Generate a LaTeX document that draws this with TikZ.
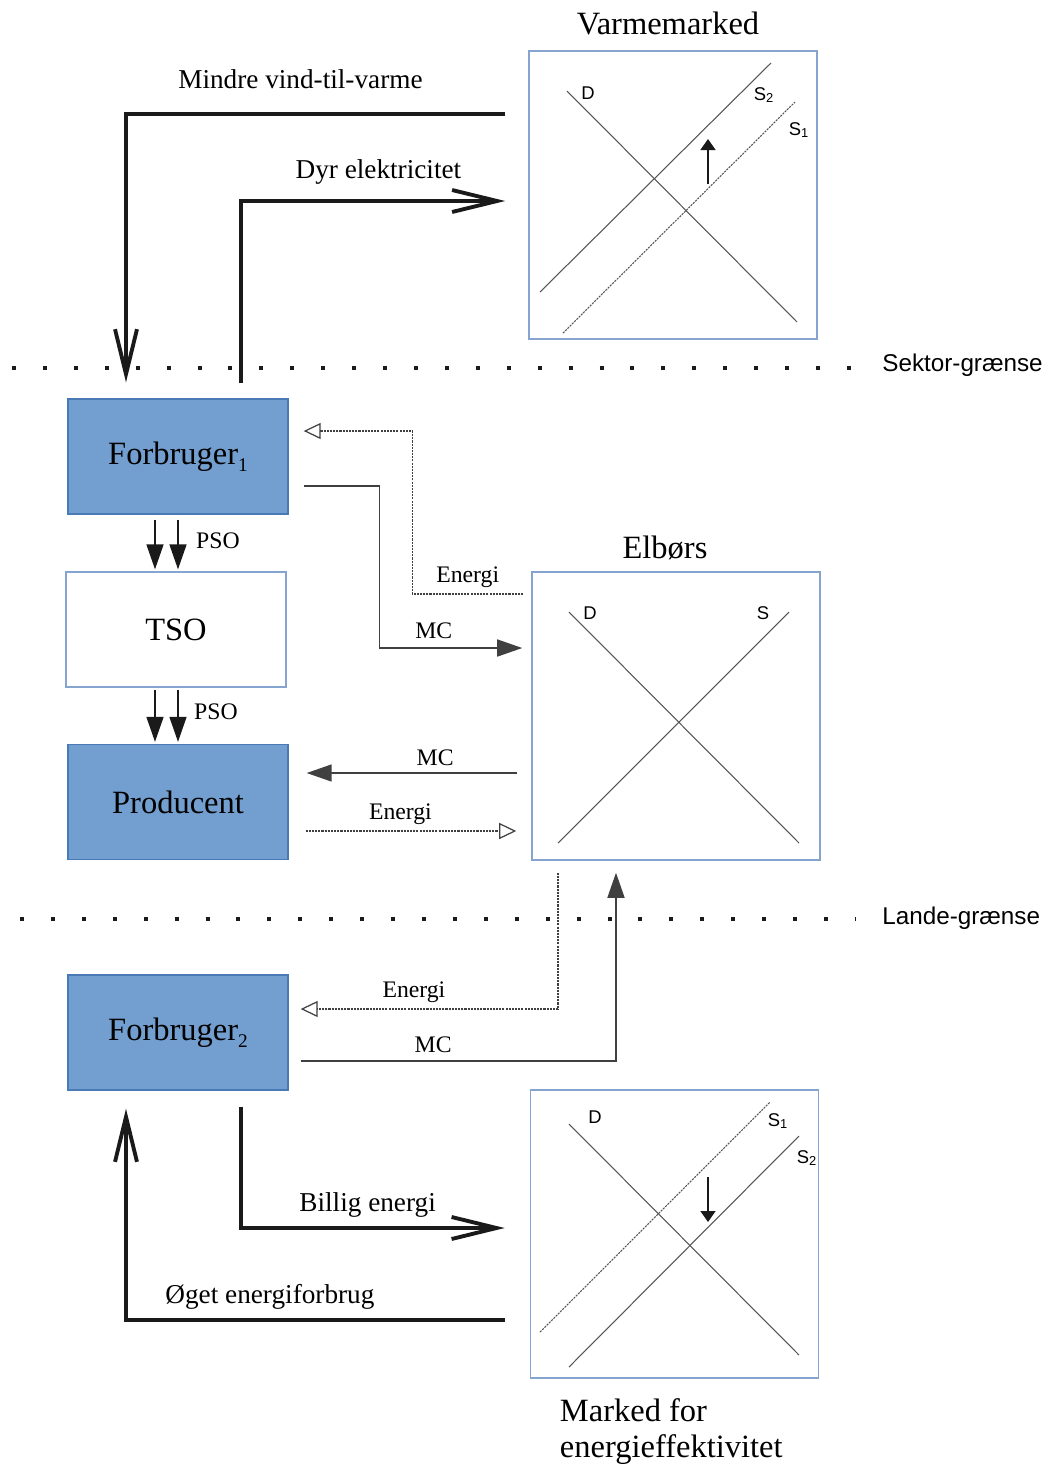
\documentclass[tikz,border=0pt]{standalone}
\usepackage{fontspec}
\setmainfont{Liberation Serif}
\setsansfont{Liberation Sans}
\usepackage{xcolor}
\usepackage{tikz}
\usetikzlibrary{arrows.meta,positioning}
\definecolor{Ink}{HTML}{1A1A1A}
\definecolor{LineGrey}{HTML}{404040}
\definecolor{CurveGrey}{HTML}{555555}
\definecolor{Agent}{HTML}{729FCF}
\definecolor{AgentEdge}{HTML}{4A7AB5}
\definecolor{MarketEdge}{HTML}{85A4D0}
\newcommand{\lowidx}[1]{\raisebox{-0.5ex}{\fontsize{11}{12}\selectfont #1}}

\begin{document}
\begin{tikzpicture}[x=0.02cm,y=-0.02cm,
  agent/.style={draw=AgentEdge,fill=Agent,line width=0.8pt,minimum width=4.4cm,
    minimum height=2.3cm,font=\fontsize{18.5}{22}\selectfont},
  tsobox/.style={agent,fill=white,draw=MarketEdge},
  market/.style={draw=MarketEdge,line width=0.9pt,minimum width=5.76cm,minimum height=5.76cm},
  title/.style={font=\fontsize{18.5}{20.5}\selectfont},
  lbl/.style={text=black,font=\fontsize{13.5}{16}\selectfont},
  biglbl/.style={text=black,font=\fontsize{15.5}{18}\selectfont},
  axislbl/.style={font=\sffamily\fontsize{10.5}{12}\selectfont,inner sep=0pt},
  grenselbl/.style={font=\sffamily\fontsize{13.8}{16}\selectfont,anchor=west,inner sep=0pt},
  flow/.style={Ink,line width=2.2pt,-{Straight Barb[length=9mm,width=4.4mm]}},
  mc/.style={LineGrey,line width=0.9pt,-{Triangle[length=5mm,width=3.4mm]}},
  energi/.style={LineGrey,line width=0.7pt,dash pattern=on 1.2pt off 0.6pt,
    -{Triangle[open,length=3.4mm,width=3.2mm]}},
  pso/.style={Ink,line width=0.9pt,-{Triangle[length=5mm,width=3.4mm]}},
  grense/.style={Ink,line width=2.3pt,dash pattern=on 2.3pt off 15.3pt},
  curve/.style={CurveGrey,line width=0.6pt},
  shifted/.style={curve,dash pattern=on 1.2pt off 0.6pt},
  move/.style={Ink,line width=0.9pt,-{Triangle[length=2.2mm,width=3mm]}}]
\useasboundingbox (0,0) rectangle (1050,1465);

\node[agent] (f1) at (178,456.5) {Forbruger\lowidx{1}};
\node[tsobox] (tso) at (176,629.5) {TSO};
\node[agent] (prod) at (178,802) {Producent};
\node[agent] (f2) at (178,1032.5) {Forbruger\lowidx{2}};
\node[market] (heat) at (673,195) {};
\node[market] (elb) at (676,716) {};
\node[market] (eff) at (674.5,1234) {};
\node[title,above=5pt of heat,xshift=-0.1cm] (heatlbl) {Varmemarked};
\node[title,above=3pt of elb,xshift=-0.22cm] (elblbl) {Elbørs};
\node[title,align=left,anchor=north west] (efflbl) at ([shift={(24,14)}]eff.south west)
  {Marked for\\energieffektivitet};

\draw[grense] (12,368) -- (852,368);
\node[grenselbl] (sektor) at (882,365) {Sektor-grænse};
\draw[grense] (20,919) -- (855,919);
\node[grenselbl] (lande) at (882,918) {Lande-grænse};

\draw[curve] (567,91) -- (797,322);
\draw[curve] (540,292) -- (771,63);
\draw[shifted] (563,333) -- (795,102);
\draw[move] (708,184) -- (708,139);
\node[axislbl] (hd) at (588,93) {D};
\node[axislbl] (hs2) at (764,95) {S\textsubscript{2}};
\node[axislbl] (hs1) at (799,130) {S\textsubscript{1}};

\draw[curve] (569,612) -- (799,843);
\draw[curve] (558,843) -- (789,612);
\node[axislbl] (ed) at (590,613) {D};
\node[axislbl] (es) at (763,613) {S};

\draw[curve] (569,1124) -- (799,1355);
\draw[shifted] (540,1332) -- (770,1102);
\draw[curve] (569,1367) -- (799,1136);
\draw[move] (708,1177) -- (708,1222);
\node[axislbl] (fd) at (595,1117) {D};
\node[axislbl] (fs1) at (778,1121) {S\textsubscript{1}};
\node[axislbl] (fs2) at (807,1158) {S\textsubscript{2}};

\foreach \dx in {-23,0}{
  \draw[pso] ([shift={(\dx,5)}]f1.south) -- ([shift={(\dx+2,-2)}]tso.north);
  \draw[pso] ([shift={(\dx+2,2)}]tso.south) -- ([shift={(\dx,-2)}]prod.north);
}
\node[lbl,anchor=west] (pso1) at ([shift={(12,26)}]f1.south) {PSO};
\node[lbl,anchor=west] (pso2) at ([shift={(12,24)}]tso.south) {PSO};

\draw[mc] ([shift={(15,29.5)}]f1.east) -- ++(76,0)
  |- node[lbl,above=1.5pt,pos=.69] {MC} ([shift={(-9,-68)}]elb.west);
\draw[energi] ([shift={(-8,-122)}]elb.west) -- node[lbl,above] {Energi} ++(-111,0)
  |- ([shift={(15,-25.5)}]f1.east);
\draw[mc] ([shift={(-14,57)}]elb.west) -- node[lbl,above=0.5pt,pos=.39] {MC} ([shift={(18,-29)}]prod.east);
\draw[energi] ([shift={(17,29)}]prod.east) -- node[lbl,above,pos=.45] {Energi} ([shift={(-15,115)}]elb.west);
\draw[energi] ([shift={(-118,12)}]elb.south) |- node[lbl,above,pos=.78] {Energi} ([shift={(12,-23.5)}]f2.east);
\draw[mc] ([shift={(12,28.5)}]f2.east) -| node[lbl,above=1pt,pos=.21] {MC} ([shift={(-60,12)}]elb.south);

\draw[flow] ([shift={(-23,-81)}]heat.west) -| node[biglbl,above=10pt,pos=.27] {Mindre vind-til-varme}
  ([shift={(-52,-16)}]f1.north);
\draw[flow] ([shift={(63,-15)}]f1.north) |- node[biglbl,above=5pt,pos=.76] {Dyr elektricitet}
  ([shift={(-23,6)}]heat.west);
\draw[flow] ([shift={(63,16)}]f2.south) |- node[biglbl,above=1.5pt,pos=.74] {Billig energi}
  ([shift={(-25,-6)}]eff.west);
\draw[flow] ([shift={(-25,86)}]eff.west) -| node[biglbl,above=1.5pt,pos=.31] {Øget energiforbrug}
  ([shift={(-52,18)}]f2.south);
\end{tikzpicture}
\end{document}
